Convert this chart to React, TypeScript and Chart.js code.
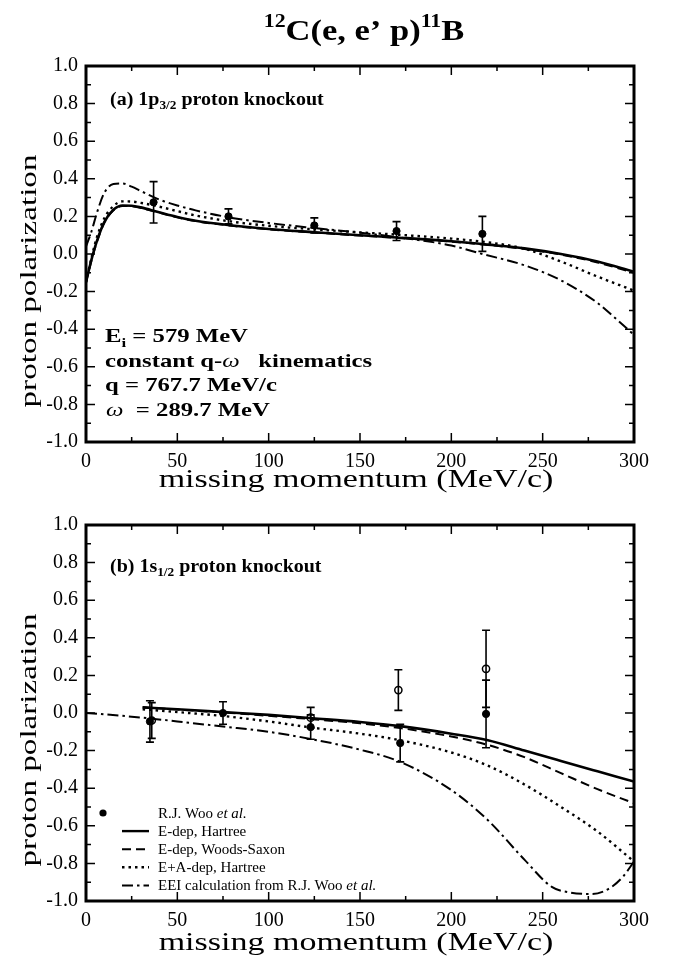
import React, { useEffect, useRef } from 'react';
import { Chart, registerables } from 'chart.js';

Chart.register(...registerables);

const FONT = '"Liberation Serif", "Times New Roman", Times, serif';

// ---------- Panel (a): 1p3/2 proton knockout ----------
const curveXA = [0, 3, 6, 10, 15, 20, 25, 30, 40, 50, 60, 80, 100, 125, 150, 170, 200, 220, 240, 260, 280, 300];
const hartreeA = [-0.15, -0.03, 0.07, 0.17, 0.235, 0.258, 0.257, 0.248, 0.222, 0.197, 0.177, 0.152, 0.133, 0.116, 0.1, 0.088, 0.068, 0.05, 0.03, 0.0, -0.04, -0.095];
const woodsSaxonA = [-0.15, -0.035, 0.065, 0.165, 0.232, 0.255, 0.254, 0.245, 0.22, 0.195, 0.175, 0.15, 0.131, 0.114, 0.098, 0.086, 0.066, 0.048, 0.027, -0.003, -0.045, -0.1];
const eaDepA = [-0.15, -0.02, 0.09, 0.19, 0.255, 0.28, 0.279, 0.272, 0.252, 0.228, 0.205, 0.172, 0.15, 0.131, 0.115, 0.103, 0.082, 0.062, 0.028, -0.04, -0.12, -0.195];
const eeiXA = [0, 3, 6, 10, 15, 20, 25, 30, 40, 50, 60, 80, 100, 125, 150, 170, 200, 217, 240, 260, 280, 289, 300];
const eeiA = [0.04, 0.12, 0.22, 0.325, 0.372, 0.375, 0.358, 0.335, 0.29, 0.258, 0.232, 0.192, 0.165, 0.138, 0.113, 0.09, 0.045, 0.0, -0.06, -0.14, -0.26, -0.335, -0.43];
const wooXA = [37, 78, 125, 170, 217];
const wooYA = [0.275, 0.2, 0.152, 0.122, 0.107];
const wooErrA = [0.11, 0.04, 0.04, 0.05, 0.093];

// ---------- Panel (b): 1s1/2 proton knockout ----------
const curveXB = [31, 50, 75, 100, 124, 150, 172, 200, 220, 240, 260, 280, 300];
const hartreeB = [0.03, 0.02, 0.005, -0.01, -0.028, -0.048, -0.07, -0.11, -0.145, -0.2, -0.255, -0.31, -0.365];
const woodsSaxonB = [0.03, 0.018, 0.003, -0.015, -0.033, -0.055, -0.08, -0.125, -0.17, -0.235, -0.32, -0.405, -0.48];
const eaDepB = [0.02, 0.005, -0.016, -0.045, -0.078, -0.11, -0.145, -0.21, -0.28, -0.38, -0.5, -0.63, -0.79];
const eeiXB = [0, 20, 36, 50, 75, 100, 124, 150, 172, 200, 220, 240, 255, 265, 277, 287, 294, 300];
const eeiB = [0.0, -0.015, -0.03, -0.045, -0.072, -0.1, -0.14, -0.195, -0.26, -0.41, -0.57, -0.78, -0.925, -0.955, -0.963, -0.93, -0.87, -0.79];
const wooXB = [35, 75, 123, 172, 219];
const wooYB = [-0.045, 0.0, -0.075, -0.16, -0.005];
const wooErrB = [0.11, 0.06, 0.065, 0.1, 0.18];
const openXB = [36, 123, 171, 219];
const openYB = [-0.04, -0.025, 0.122, 0.235];
const openErrB = [0.095, 0.055, 0.108, 0.205];

// ---------- Axes ----------
const xTickValues = [0, 50, 100, 150, 200, 250, 300];
const yTickValues = [-1.0, -0.8, -0.6, -0.4, -0.2, 0.0, 0.2, 0.4, 0.6, 0.8, 1.0];

const legendLabels = ['R.J. Woo ', 'E-dep, Hartree', 'E-dep, Woods-Saxon', 'E+A-dep, Hartree', 'EEI calculation from R.J. Woo '];

type Part = { t: string; f: string; dy?: number };

function drawParts(ctx: CanvasRenderingContext2D, parts: Part[], x: number, y: number, sx: number, align: 'left' | 'center', rotate = false) {
  ctx.save();
  ctx.translate(x, y);
  if (rotate) ctx.rotate(-Math.PI / 2);
  ctx.scale(sx, 1);
  ctx.textBaseline = 'alphabetic';
  ctx.textAlign = 'left';
  ctx.fillStyle = '#000';
  let total = 0;
  const ws = parts.map((p) => {
    ctx.font = p.f;
    const w = ctx.measureText(p.t).width;
    total += w;
    return w;
  });
  let cx = align === 'center' ? -total / 2 : 0;
  parts.forEach((p, i) => {
    ctx.font = p.f;
    ctx.fillText(p.t, cx, p.dy || 0);
    cx += ws[i];
  });
  ctx.restore();
}

const pts = (xs: number[], ys: number[]) => xs.map((x, i) => ({ x, y: ys[i] }));

type ErrSet = { x: number[]; y: number[]; e: number[] };

type PanelCfg = {
  label: Part[];
  labelDy: number;
  xTitleDy: number;
  errSets: ErrSet[];
  extra?: (chart: any) => void;
};

function makePlugin(cfg: PanelCfg) {
  return {
    id: 'decor',
    afterDatasetsDraw(chart: any) {
      const { ctx, scales } = chart;
      const xs = scales.x;
      const ys = scales.y;
      ctx.save();
      ctx.strokeStyle = '#000';
      ctx.lineWidth = 1.6;
      cfg.errSets.forEach((s) => {
        s.x.forEach((xv, i) => {
          const px = xs.getPixelForValue(xv);
          const t = ys.getPixelForValue(s.y[i] + s.e[i]);
          const b = ys.getPixelForValue(s.y[i] - s.e[i]);
          ctx.beginPath();
          ctx.moveTo(px, t);
          ctx.lineTo(px, b);
          ctx.moveTo(px - 4, t);
          ctx.lineTo(px + 4, t);
          ctx.moveTo(px - 4, b);
          ctx.lineTo(px + 4, b);
          ctx.stroke();
        });
      });
      ctx.restore();
    },
    afterDraw(chart: any) {
      const { ctx, chartArea: a, scales } = chart;
      const xs = scales.x;
      const ys = scales.y;
      ctx.save();
      ctx.strokeStyle = '#000';
      ctx.lineWidth = 1.5;
      ctx.beginPath();
      for (let v = 0; v <= 300; v += 25) {
        const px = xs.getPixelForValue(v);
        const len = v % 50 === 0 ? 9 : 5;
        ctx.moveTo(px, a.bottom);
        ctx.lineTo(px, a.bottom - len);
        ctx.moveTo(px, a.top);
        ctx.lineTo(px, a.top + len);
      }
      for (let k = -10; k <= 10; k++) {
        const py = ys.getPixelForValue(k / 10);
        const len = k % 2 === 0 ? 9 : 5;
        ctx.moveTo(a.left, py);
        ctx.lineTo(a.left + len, py);
        ctx.moveTo(a.right, py);
        ctx.lineTo(a.right - len, py);
      }
      ctx.stroke();
      ctx.lineWidth = 3;
      ctx.strokeRect(a.left, a.top, a.right - a.left, a.bottom - a.top);
      ctx.restore();

      // panel label
      drawParts(ctx, cfg.label, a.left + 24, a.top + cfg.labelDy, 1.11, 'left');
      // axis titles
      drawParts(ctx, [{ t: 'missing momentum (MeV/c)', f: `25px ${FONT}` }], (a.left + a.right) / 2 - 4, a.bottom + cfg.xTitleDy, 1.36, 'center');
      drawParts(ctx, [{ t: 'proton polarization', f: `24px ${FONT}` }], 36, (a.top + a.bottom) / 2 + 27, 1.38, 'center', true);
      if (cfg.extra) cfg.extra(chart);
    },
  };
}

function baseOptions(padTop: number, xHeight: number) {
  return {
    responsive: false,
    animation: false as const,
    layout: { padding: { top: padTop, right: 41, left: 0, bottom: 0 } },
    plugins: { legend: { display: false }, tooltip: { enabled: false }, title: { display: false } },
    scales: {
      x: {
        type: 'linear' as const,
        min: 0,
        max: 300,
        afterBuildTicks: (s: any) => {
          s.ticks = xTickValues.map((v) => ({ value: v }));
        },
        afterFit: (s: any) => {
          s.height = xHeight;
        },
        ticks: { color: '#000', font: { family: FONT, size: 20 }, padding: 8, maxRotation: 0, autoSkip: false, callback: (v: any) => String(v) },
        grid: { display: false, drawTicks: false },
        border: { display: false },
      },
      y: {
        type: 'linear' as const,
        min: -1,
        max: 1,
        afterBuildTicks: (s: any) => {
          s.ticks = yTickValues.map((v) => ({ value: v }));
        },
        afterFit: (s: any) => {
          s.width = 86;
        },
        ticks: {
          color: '#000',
          font: { family: FONT, size: 20 },
          padding: 8,
          autoSkip: false,
          callback: (v: any) => {
            const n = Number(v);
            return (Math.abs(n) < 1e-9 ? 0 : n).toFixed(1);
          },
        },
        grid: { display: false, drawTicks: false },
        border: { display: false },
      },
    },
  };
}

function lineSet(xs: number[], ys: number[], width: number, dash: number[]) {
  return {
    type: 'line' as const,
    data: pts(xs, ys),
    borderColor: '#000',
    borderWidth: width,
    borderDash: dash,
    pointRadius: 0,
    fill: false,
    cubicInterpolationMode: 'monotone' as const,
  };
}

const SOLID: number[] = [];
const DASH = [9, 5];
const DOT = [2.5, 4];
const DASHDOT = [11, 4, 2.5, 4];

export default function App() {
  const refA = useRef<HTMLCanvasElement>(null);
  const refB = useRef<HTMLCanvasElement>(null);

  useEffect(() => {
    if (!refA.current || !refB.current) return;

    const pluginA = makePlugin({
      label: [
        { t: '(a) 1p', f: `bold 18px ${FONT}` },
        { t: '3/2', f: `bold 12px ${FONT}`, dy: 4 },
        { t: ' proton knockout', f: `bold 18px ${FONT}` },
      ],
      labelDy: 39,
      xTitleDy: 45,
      errSets: [{ x: wooXA, y: wooYA, e: wooErrA }],
      extra: (chart: any) => {
        const { ctx, chartArea: a } = chart;
        const B = `bold 19px ${FONT}`;
        const I = `italic 19px ${FONT}`;
        const x0 = a.left + 19;
        // title
        drawParts(
          ctx,
          [
            { t: '12', f: `bold 19px ${FONT}`, dy: -13 },
            { t: 'C(e, e\u2019 p)', f: `bold 30px ${FONT}` },
            { t: '11', f: `bold 19px ${FONT}`, dy: -13 },
            { t: 'B', f: `bold 30px ${FONT}` },
          ],
          (a.left + a.right) / 2 + 4,
          40,
          1.15,
          'center'
        );
        drawParts(ctx, [{ t: 'E', f: B }, { t: 'i', f: `bold 13px ${FONT}`, dy: 5 }, { t: ' = 579 MeV', f: B }], x0, a.top + 276, 1.3, 'left');
        drawParts(ctx, [{ t: 'constant q-', f: B }, { t: '\u03c9', f: I }, { t: '   kinematics', f: B }], x0, a.top + 300.5, 1.3, 'left');
        drawParts(ctx, [{ t: 'q = 767.7 MeV/c', f: B }], x0, a.top + 325, 1.3, 'left');
        drawParts(ctx, [{ t: '\u03c9', f: I }, { t: '  = 289.7 MeV', f: B }], x0 + 1, a.top + 350, 1.3, 'left');
      },
    });

    const chartA = new Chart(refA.current, {
      type: 'line',
      data: {
        datasets: [
          {
            type: 'scatter' as const,
            data: pts(wooXA, wooYA),
            pointRadius: 3.6,
            pointBackgroundColor: '#000',
            pointBorderColor: '#000',
            pointBorderWidth: 1,
            showLine: false,
          } as any,
          lineSet(curveXA, hartreeA, 2.6, SOLID),
          lineSet(curveXA, woodsSaxonA, 2, DASH),
          lineSet(curveXA, eaDepA, 2.4, DOT),
          lineSet(eeiXA, eeiA, 2, DASHDOT),
        ],
      },
      options: baseOptions(66, 58) as any,
      plugins: [pluginA as any],
    });

    const pluginB = makePlugin({
      label: [
        { t: '(b) 1s', f: `bold 18px ${FONT}` },
        { t: '1/2', f: `bold 12px ${FONT}`, dy: 4 },
        { t: ' proton knockout', f: `bold 18px ${FONT}` },
      ],
      labelDy: 47,
      xTitleDy: 49,
      errSets: [
        { x: openXB, y: openYB, e: openErrB },
        { x: wooXB, y: wooYB, e: wooErrB },
      ],
      extra: (chart: any) => {
        const { ctx, chartArea: a } = chart;
        const N = `15px ${FONT}`;
        const IT = `italic 15px ${FONT}`;
        const tx = a.left + 72;
        const lx0 = a.left + 36;
        const lx1 = a.left + 63;
        const dashes = [null, SOLID, DASH, DOT, DASHDOT];
        const widths = [0, 2.4, 2, 2.4, 2];
        legendLabels.forEach((lab, i) => {
          const base = a.bottom - 83 + i * 18.1;
          const parts: Part[] = [{ t: lab, f: N }];
          if (i === 0 || i === 4) parts.push({ t: 'et al.', f: IT });
          drawParts(ctx, parts, tx, base, 1, 'left');
          ctx.save();
          ctx.strokeStyle = '#000';
          ctx.fillStyle = '#000';
          if (i === 0) {
            ctx.beginPath();
            ctx.arc(a.left + 17, base - 5, 3.6, 0, Math.PI * 2);
            ctx.fill();
          } else {
            ctx.lineWidth = widths[i];
            ctx.setLineDash(dashes[i] as number[]);
            ctx.beginPath();
            ctx.moveTo(lx0, base - 5);
            ctx.lineTo(lx1, base - 5);
            ctx.stroke();
          }
          ctx.restore();
        });
      },
    });

    const chartB = new Chart(refB.current, {
      type: 'line',
      data: {
        datasets: [
          {
            type: 'scatter' as const,
            data: pts(wooXB, wooYB),
            pointRadius: 3.6,
            pointBackgroundColor: '#000',
            pointBorderColor: '#000',
            pointBorderWidth: 1,
            showLine: false,
          } as any,
          {
            type: 'scatter' as const,
            data: pts(openXB, openYB),
            pointRadius: 3.6,
            pointBackgroundColor: 'rgba(255,255,255,0)',
            pointBorderColor: '#000',
            pointBorderWidth: 1.5,
            showLine: false,
          } as any,
          lineSet(curveXB, hartreeB, 2.6, SOLID),
          lineSet(curveXB, woodsSaxonB, 2, DASH),
          lineSet(curveXB, eaDepB, 2.4, DOT),
          lineSet(eeiXB, eeiB, 2, DASHDOT),
        ],
      },
      options: baseOptions(25, 57) as any,
      plugins: [pluginB as any],
    });

    return () => {
      chartA.destroy();
      chartB.destroy();
    };
  }, []);

  return (
    <div style={{ position: 'absolute', left: 0, top: 0, width: 675, height: 958, background: '#fff', overflow: 'hidden' }}>
      <canvas ref={refA} width={675} height={500} style={{ position: 'absolute', left: 0, top: 0, width: 675, height: 500 }} />
      <canvas ref={refB} width={675} height={458} style={{ position: 'absolute', left: 0, top: 500, width: 675, height: 458 }} />
    </div>
  );
}
